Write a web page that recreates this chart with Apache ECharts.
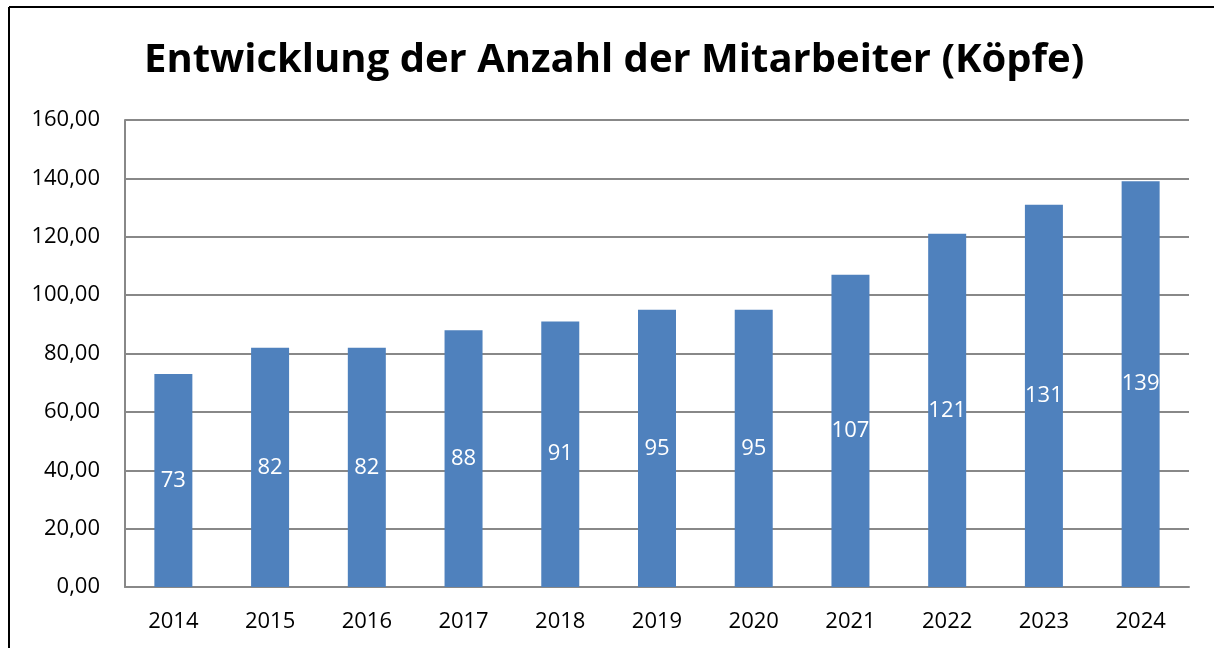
<!DOCTYPE html>
<html>
<head>
<meta charset="utf-8">
<script src="https://cdn.jsdelivr.net/npm/echarts@6/dist/echarts.min.js"></script>
<style>
  html, body { margin: 0; padding: 0; background: #fff; }
  #main { width: 1214px; height: 648px; }
</style>
</head>
<body>
<div id="main"></div>
<script>
var years = ['2014', '2015', '2016', '2017', '2018', '2019', '2020', '2021', '2022', '2023', '2024'];
var heads = [73, 82, 82, 88, 91, 95, 95, 107, 121, 131, 139];
var titleText = 'Entwicklung der Anzahl der Mitarbeiter (Köpfe)';

var myChart = echarts.init(document.getElementById('main'));
myChart.setOption({
    animation: false,
    title: {
        text: titleText,
        left: 139,
        top: 36,
        textStyle: {
            fontFamily: 'Open Sans',
            fontWeight: 'bold',
            fontSize: 40,
            color: '#000'
        }
    },
    graphic: [
        { type: 'line', shape: { x1: 9, y1: 7, x2: 9, y2: 648 }, style: { stroke: '#000', lineWidth: 2 } },
        { type: 'line', shape: { x1: 9, y1: 7, x2: 1214, y2: 7 }, style: { stroke: '#000', lineWidth: 2 } }
    ],
    grid: {
        left: 125,
        right: 25,
        top: 120,
        bottom: 61
    },
    xAxis: {
        type: 'category',
        data: years,
        axisTick: { show: false },
        axisLine: { lineStyle: { color: '#888', width: 2 } },
        axisLabel: {
            color: '#000',
            fontFamily: 'Open Sans',
            fontSize: 22,
            margin: 24
        }
    },
    yAxis: {
        type: 'value',
        min: 0,
        max: 160,
        interval: 20,
        axisLine: { show: true, lineStyle: { color: '#888', width: 2 } },
        axisTick: { show: false },
        splitLine: { lineStyle: { color: '#888', width: 2 } },
        axisLabel: {
            color: '#000',
            fontFamily: 'Open Sans',
            fontSize: 22,
            margin: 25,
            formatter: function (v) { return v.toFixed(2).replace('.', ','); }
        }
    },
    series: [{
        type: 'bar',
        data: heads,
        barWidth: 38,
        itemStyle: { color: '#4F81BD' },
        label: {
            show: true,
            position: 'inside',
            color: '#fff',
            fontFamily: 'Open Sans',
            fontSize: 22
        }
    }]
});
</script>
</body>
</html>
